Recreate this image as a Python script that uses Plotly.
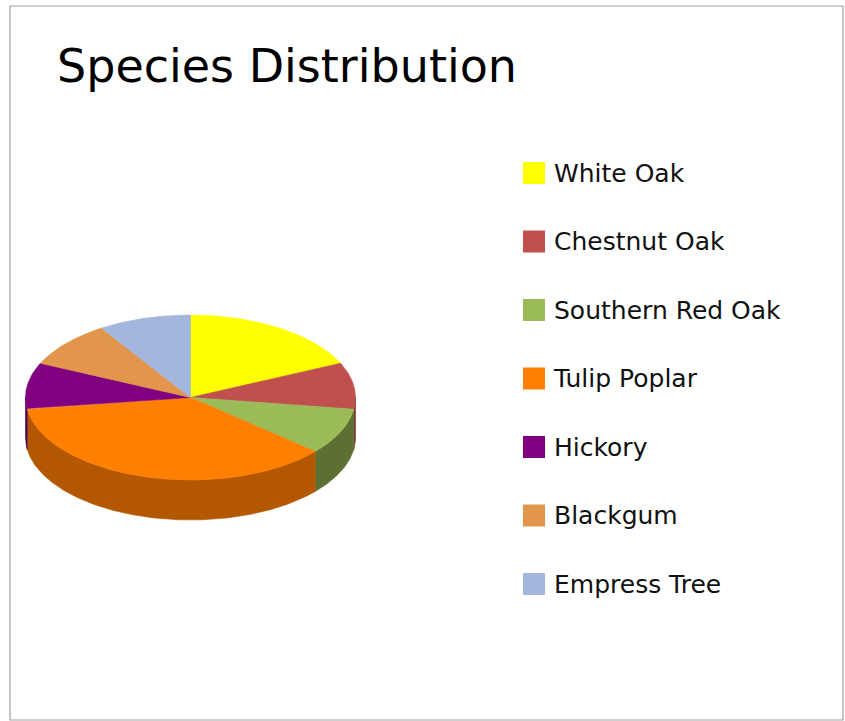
import numpy as np
import plotly.graph_objects as go

# ---- data ----
species = ["White Oak", "Chestnut Oak", "Southern Red Oak", "Tulip Poplar",
           "Hickory", "Blackgum", "Empress Tree"]
counts = [20, 10, 10, 40, 10, 10, 10]
top_colors = ["#FFFF00", "#C0504D", "#9BBB59", "#FF8000", "#800080", "#E2964B", "#A3B6DD"]
side_colors = ["#A6A600", "#7E3330", "#5B7032", "#B35700", "#4E004E", "#9C6330", "#6C7C99"]
title_text = "Species Distribution"

# ---- geometry (pixel units) ----
W, H = 845, 721
CX, CY, RX, RY, DEPTH = 190.5, 397.5, 165, 82.5, 40
LEG_X, LEG_Y0, LEG_DY = 534, 173, 68.5

total = float(sum(counts))
fracs = np.array(counts) / total * 360.0
ends = np.cumsum(fracs)
starts = ends - fracs


def arc(a0, a1, dy=0.0):
    n = max(int((a1 - a0) * 2), 2)
    t = np.radians(np.linspace(a0, a1, n))
    return CX + RX * np.sin(t), CY - RY * np.cos(t) + dy


fig = go.Figure()

# side walls (front-facing part only)
for name, a0, a1, col in zip(species, starts, ends, side_colors):
    s, e = max(a0, 90.0), min(a1, 270.0)
    if e > s:
        xt, yt = arc(s, e)
        xb, yb = arc(s, e, DEPTH)
        xs = list(xt) + list(xb[::-1]) + [xt[0]]
        ys = list(yt) + list(yb[::-1]) + [yt[0]]
        fig.add_trace(go.Scatter(x=xs, y=ys, mode="lines", fill="toself",
                                 fillcolor=col, line=dict(color=col, width=0.6),
                                 hoverinfo="skip", showlegend=False))

# top faces
for name, a0, a1, col, v in zip(species, starts, ends, top_colors, counts):
    xa, ya = arc(a0, a1)
    xs = [CX] + list(xa) + [CX]
    ys = [CY] + list(ya) + [CY]
    fig.add_trace(go.Scatter(x=xs, y=ys, mode="lines", fill="toself",
                             fillcolor=col, line=dict(color=col, width=0.6),
                             name=name, text=f"{name}: {v}", hoverinfo="text",
                             showlegend=False))

# legend (markers + labels)
idx = np.arange(len(species))
fig.add_trace(go.Scatter(x=[LEG_X] * len(species), y=LEG_Y0 + idx * LEG_DY,
                         mode="markers",
                         marker=dict(symbol="square", size=22, color=top_colors,
                                     line=dict(width=0)),
                         hoverinfo="skip", showlegend=False))
fig.add_trace(go.Scatter(x=[LEG_X + 20] * len(species), y=LEG_Y0 + idx * LEG_DY + 2.5,
                         mode="text", text=species, textposition="middle right",
                         textfont=dict(family="DejaVu Sans", size=25, color="#111111"),
                         hoverinfo="skip", showlegend=False))

fig.update_layout(
    width=W, height=H, autosize=False,
    margin=dict(l=0, r=0, t=0, b=0),
    paper_bgcolor="white", plot_bgcolor="white",
    showlegend=False,
    title=dict(text=title_text, x=57 / W, xanchor="left", y=1 - 66 / H, yanchor="middle",
               font=dict(family="DejaVu Sans", size=46, color="#000000")),
    xaxis=dict(range=[0, W], domain=[0, 1], visible=False, fixedrange=True),
    yaxis=dict(range=[H, 0], domain=[0, 1], visible=False, fixedrange=True),
    shapes=[dict(type="rect", xref="x", yref="y", x0=10, y0=6, x1=843, y1=720,
                 line=dict(color="#A0A0A0", width=1.2), layer="below")],
)

fig.write_html("out.html")
